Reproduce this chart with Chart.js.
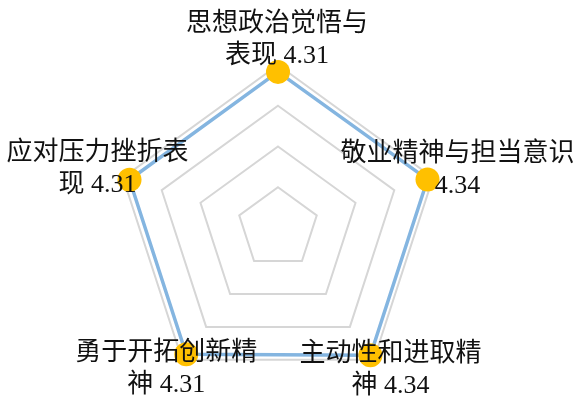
<!DOCTYPE html>
<html>
<head>
<meta charset="utf-8">
<script src="https://cdn.jsdelivr.net/npm/chart.js@4.4.1/dist/chart.umd.min.js"></script>
<style>
  html, body { margin: 0; padding: 0; background: #fff; }
  #wrap { width: 577px; height: 396px; position: relative; }
</style>
</head>
<body>
<div id="wrap"><canvas id="radarChart"></canvas></div>
<script>
const categories = ['思想政治觉悟与表现', '敬业精神与担当意识', '主动性和进取精神', '勇于开拓创新精神', '应对压力挫折表现'];
const scores = [4.31, 4.34, 4.34, 4.31, 4.31];
// how many characters of the name stay on the first line
const firstLineLength = [7, 9, 7, 7, 7];
const scaleMax = 4.5;
const scaleStep = 1.125;

const lineColor = '#84b5e0';
const pointColor = '#ffc000';
const gridColor = '#d6d6d6';
const textColor = '#111111';
const labelFont = '26px "Liberation Serif", "Noto Sans CJK SC", serif';

// where each label block sits relative to its point
const labelOffsets = [
  { x: -1, y: -32 },
  { x: 30, y: -9 },
  { x: 20, y: 15 },
  { x: -20, y: 15 },
  { x: -32, y: -11 }
];

function buildLines(i) {
  const name = categories[i];
  const full = name + ' ' + scores[i].toFixed(2);
  const cut = firstLineLength[i];
  return [full.slice(0, cut), full.slice(cut).trim()];
}

const labelPlugin = {
  id: 'pointText',
  afterDatasetsDraw(chart) {
    const ctx = chart.ctx;
    const meta = chart.getDatasetMeta(0);
    const lineHeight = 32;
    ctx.save();
    ctx.font = labelFont;
    ctx.fillStyle = textColor;
    ctx.textAlign = 'center';
    ctx.textBaseline = 'middle';
    meta.data.forEach((pt, i) => {
      const lines = buildLines(i);
      const cx = pt.x + labelOffsets[i].x;
      const cy = pt.y + labelOffsets[i].y;
      const top = cy - (lines.length - 1) * lineHeight / 2;
      lines.forEach((line, j) => {
        ctx.fillText(line, cx, top + j * lineHeight);
      });
    });
    ctx.restore();
  }
};

new Chart(document.getElementById('radarChart'), {
  type: 'radar',
  data: {
    labels: categories,
    datasets: [
      {
        label: '得分',
        data: scores,
        borderColor: lineColor,
        backgroundColor: 'rgba(0,0,0,0)',
        borderWidth: 3.5,
        fill: false,
        pointRadius: 12,
        pointBackgroundColor: pointColor,
        pointBorderColor: pointColor,
        pointBorderWidth: 0
      }
    ]
  },
  options: {
    responsive: true,
    maintainAspectRatio: false,
    animation: false,
    layout: {
      padding: { top: 65, bottom: 5, left: 0, right: 21 }
    },
    plugins: {
      legend: { display: false },
      tooltip: { enabled: false }
    },
    scales: {
      r: {
        min: 0,
        max: scaleMax,
        ticks: { display: false, stepSize: scaleStep },
        grid: { color: gridColor, lineWidth: 2 },
        angleLines: { display: false },
        pointLabels: { display: false }
      }
    }
  },
  plugins: [labelPlugin]
});
</script>
</body>
</html>
